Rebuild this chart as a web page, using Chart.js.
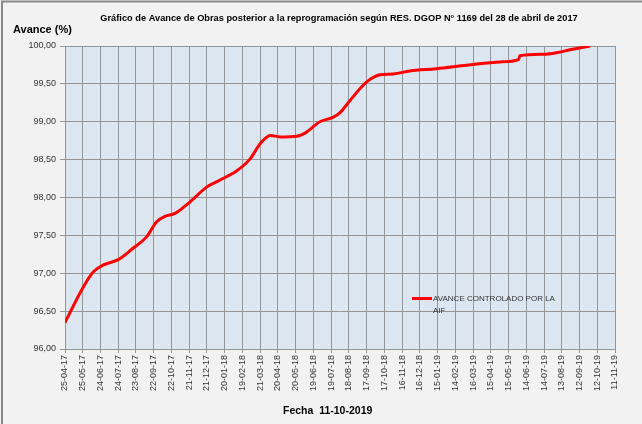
<!doctype html>
<html>
<head>
    <meta charset="UTF-8"/>
    <title>Avance de Obras</title>
    <script src="https://cdn.jsdelivr.net/npm/chart.js@4.4.0/dist/chart.umd.min.js"></script>
</head>
<body style="margin: 0; background: #f2f2f2;">
<div style="width: 642px; height: 424px;">
    <canvas id="myChart" width="642" height="424"></canvas>
</div>

<script>
    // fechas del eje X (cada 30 días desde 25-04-2017)
    const tickLabels = ['25-04-17', '25-05-17', '24-06-17', '24-07-17', '23-08-17', '22-09-17', '22-10-17', '21-11-17',
        '21-12-17', '20-01-18', '19-02-18', '21-03-18', '20-04-18', '20-05-18', '19-06-18', '19-07-18', '18-08-18',
        '17-09-18', '17-10-18', '16-11-18', '16-12-18', '15-01-19', '14-02-19', '16-03-19', '15-04-19', '15-05-19',
        '14-06-19', '14-07-19', '13-08-19', '12-09-19', '12-10-19', '11-11-19'];

    // días transcurridos desde 25-04-17 y avance (%)
    const days = [0, 31, 48, 65, 90, 115, 138, 155, 169, 186, 211, 240, 262, 290, 313, 330, 347, 364, 392, 406,
        431, 454, 465, 482, 499, 516, 533, 555, 583, 628, 679, 736, 767, 769, 809, 831, 854, 888];
    const avance = [96.35, 96.82, 97.02, 97.11, 97.18, 97.33, 97.48, 97.68, 97.75, 97.79, 97.94, 98.14, 98.23, 98.35,
        98.51, 98.71, 98.82, 98.80, 98.81, 98.85, 99.00, 99.06, 99.12, 99.28, 99.44, 99.56, 99.62, 99.63, 99.67,
        99.70, 99.745, 99.79, 99.82, 99.87, 99.89, 99.91, 99.95, 100.00];

    const seriesName = 'AVANCE CONTROLADO POR LA AIF';
    const title = 'Gráfico de Avance de Obras posterior a la reprogramación según RES. DGOP N° 1169 del 28 de abril de 2017';

    const fontFam = '"Liberation Sans", Arial, sans-serif';

    const decor = {
        id: 'decor',
        beforeDraw(chart) {
            const c = chart.ctx, a = chart.chartArea;
            c.save();
            c.fillStyle = '#f2f2f2';
            c.fillRect(0, 0, chart.width, chart.height);
            c.strokeStyle = '#8a8a8a';
            c.lineWidth = 2;
            c.beginPath();
            c.moveTo(2, chart.height);
            c.lineTo(2, 1.5);
            c.lineTo(chart.width, 1.5);
            c.stroke();
            c.fillStyle = '#dce6f1';
            c.fillRect(a.left, a.top, a.right - a.left, a.bottom - a.top);
            c.restore();
        },
        afterDraw(chart) {
            const c = chart.ctx;
            c.save();
            c.fillStyle = '#000';
            c.textBaseline = 'middle';
            // título
            let size = 11;
            c.font = 'bold ' + size + 'px ' + fontFam;
            size = size * 478 / c.measureText(title).width;
            c.font = 'bold ' + size.toFixed(2) + 'px ' + fontFam;
            c.textAlign = 'center';
            c.fillText(title, 339, 18);
            // etiquetas de ejes
            c.textAlign = 'left';
            c.font = 'bold 11px ' + fontFam;
            c.fillText('Avance (%)', 13, 30);
            c.font = 'bold 10.5px ' + fontFam;
            c.fillText('Fecha  11-10-2019', 283, 411);
            // leyenda
            c.strokeStyle = 'red';
            c.lineWidth = 3;
            c.beginPath();
            c.moveTo(412, 298.5);
            c.lineTo(432, 298.5);
            c.stroke();
            c.fillStyle = '#333';
            c.font = '8px ' + fontFam;
            c.fillText('AVANCE CONTROLADO POR LA', 433, 298.5);
            c.fillText('AIF', 433, 311);
            c.restore();
        }
    };

    const ctx = document.getElementById('myChart').getContext('2d');
    const myChart = new Chart(ctx, {
        type: 'line',
        data: {
            datasets: [{
                label: seriesName,
                data: days.map((d, i) => ({x: d, y: avance[i]})),
                borderColor: 'red',
                borderWidth: 3,
                pointRadius: 0,
                cubicInterpolationMode: 'monotone',
                fill: false
            }]
        },
        options: {
            responsive: false,
            animation: false,
            layout: {padding: {left: 0, right: 27, top: 46, bottom: 0}},
            plugins: {legend: {display: false}, tooltip: {enabled: false}},
            scales: {
                x: {
                    type: 'linear',
                    min: 0,
                    max: (tickLabels.length - 1) * 30,
                    afterBuildTicks(scale) {
                        scale.ticks = tickLabels.map((_, i) => ({value: i * 30}));
                    },
                    afterFit(scale) {
                        scale.height = 75;
                    },
                    ticks: {
                        autoSkip: false,
                        maxRotation: 90,
                        minRotation: 90,
                        padding: 2,
                        color: '#333',
                        font: {family: fontFam, size: 9},
                        callback: (v, i) => tickLabels[i]
                    },
                    grid: {color: '#969696', tickLength: 4, drawOnChartArea: true},
                    border: {color: '#969696'}
                },
                y: {
                    min: 96,
                    max: 100,
                    afterFit(scale) {
                        scale.width = 65;
                    },
                    ticks: {
                        stepSize: 0.5,
                        padding: 4,
                        color: '#333',
                        font: {family: fontFam, size: 9},
                        callback: (v) => v.toFixed(2).replace('.', ',')
                    },
                    grid: {color: '#969696', tickLength: 5},
                    border: {color: '#969696'}
                }
            }
        },
        plugins: [decor]
    });
</script>
</body>
</html>
